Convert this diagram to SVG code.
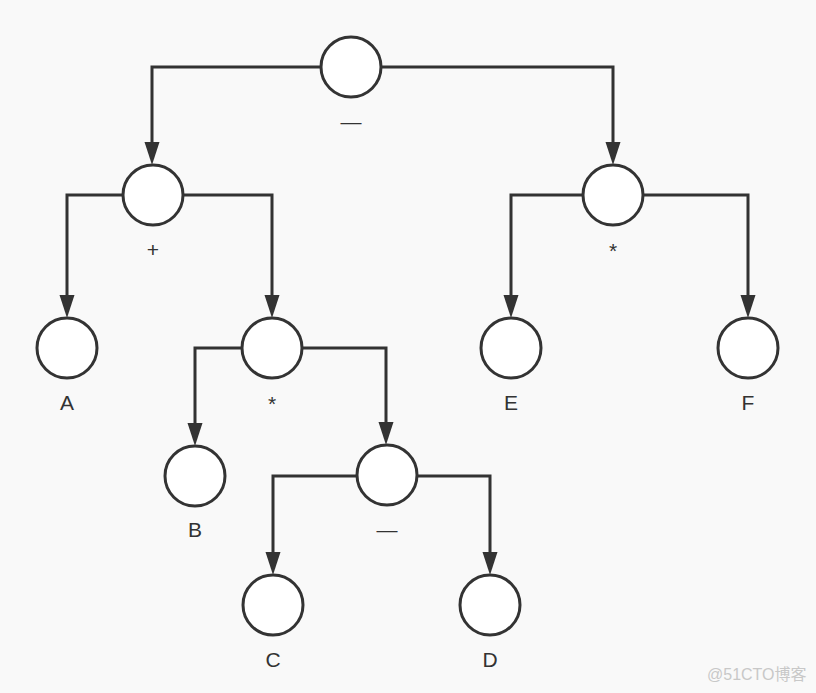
<svg xmlns="http://www.w3.org/2000/svg" width="816" height="693" viewBox="0 0 816 693">
<defs>
<style>
.n{fill:#fff;stroke:#333;stroke-width:3}
.c{fill:none;stroke:#333;stroke-width:3}
.t{font-family:"Microsoft YaHei","Liberation Sans",sans-serif;font-size:21px;fill:#333;text-anchor:middle}
.w{font-family:"Liberation Sans","Noto Sans CJK SC",sans-serif;font-size:16px;fill:#c8c8c8}
</style>
<marker id="ah" markerUnits="userSpaceOnUse" markerWidth="24" markerHeight="16" refX="12" refY="8" orient="auto" viewBox="0 0 24 16">
<path d="M0,0.5 L23,8 L0,15.5 z" fill="#333"/>
</marker>
</defs>
<rect width="816" height="693" fill="#f9f9f9"/>
<g id="connectors">
<path class="c" d="M321,67 H152 V154" marker-end="url(#ah)"/>
<path class="c" d="M381,67 H613 V154" marker-end="url(#ah)"/>
<path class="c" d="M123,195 H67 V307" marker-end="url(#ah)"/>
<path class="c" d="M183,195 H272 V307" marker-end="url(#ah)"/>
<path class="c" d="M583,195 H511 V307" marker-end="url(#ah)"/>
<path class="c" d="M643,195 H748 V307" marker-end="url(#ah)"/>
<path class="c" d="M242,348 H195 V435" marker-end="url(#ah)"/>
<path class="c" d="M302,348 H386 V434" marker-end="url(#ah)"/>
<path class="c" d="M357,476 H273 V564" marker-end="url(#ah)"/>
<path class="c" d="M417,476 H490 V564" marker-end="url(#ah)"/>
</g>
<g id="root"><circle class="n" cx="351" cy="67" r="30"/><text class="t" x="351" y="129">—</text></g>
<g id="plus"><circle class="n" cx="153" cy="195" r="30"/><text class="t" x="153" y="257">+</text></g>
<g id="mulR"><circle class="n" cx="613" cy="195" r="30"/><text class="t" x="613" y="258">*</text></g>
<g id="A"><circle class="n" cx="67" cy="348" r="30"/><text class="t" x="67" y="410">A</text></g>
<g id="mulM"><circle class="n" cx="272" cy="348" r="30"/><text class="t" x="272" y="411">*</text></g>
<g id="E"><circle class="n" cx="511" cy="348" r="30"/><text class="t" x="511" y="410">E</text></g>
<g id="F"><circle class="n" cx="748" cy="348" r="30"/><text class="t" x="748" y="410">F</text></g>
<g id="B"><circle class="n" cx="195" cy="476" r="30"/><text class="t" x="195" y="537">B</text></g>
<g id="minus"><circle class="n" cx="387" cy="475" r="30"/><text class="t" x="387" y="537">—</text></g>
<g id="C"><circle class="n" cx="273" cy="605" r="30"/><text class="t" x="273" y="667">C</text></g>
<g id="D"><circle class="n" cx="490" cy="605" r="30"/><text class="t" x="490" y="667">D</text></g>
<text class="w" x="707" y="680">@51CTO博客</text>
</svg>
